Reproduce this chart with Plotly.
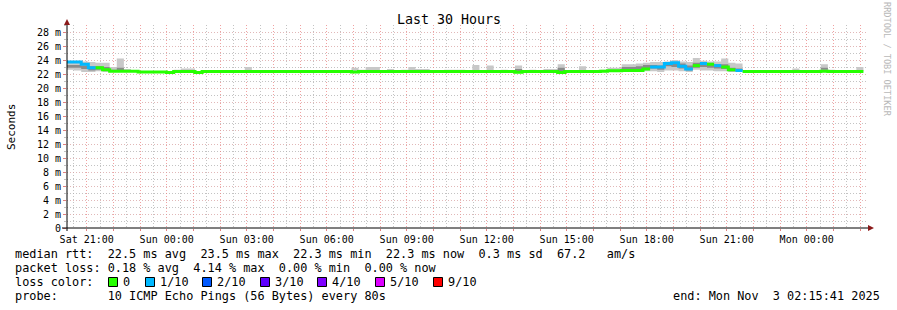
import plotly.graph_objects as go
from datetime import datetime, timedelta

# ---------------- data ----------------
start_time = datetime(2025, 11, 1, 20, 15, 41)
end_time = datetime(2025, 11, 3, 2, 15, 41)
step_minutes = 16

median_ms = [
    23.7, 23.7, 23.4, 22.9, 22.9, 22.6, 22.4, 22.4, 22.4, 22.4,
    22.3, 22.3, 22.3, 22.3, 22.2, 22.35, 22.35, 22.35, 22.2, 22.35,
    22.35, 22.35, 22.35, 22.35, 22.35, 22.35, 22.35, 22.35, 22.35, 22.35,
    22.35, 22.35, 22.35, 22.35, 22.35, 22.35, 22.35, 22.35, 22.35, 22.35,
    22.3, 22.35, 22.35, 22.35, 22.35, 22.35, 22.35, 22.35, 22.35, 22.35,
    22.35, 22.35, 22.35, 22.35, 22.35, 22.35, 22.35, 22.35, 22.35, 22.35,
    22.35, 22.35, 22.35, 22.25, 22.35, 22.35, 22.35, 22.35, 22.35, 22.2,
    22.35, 22.35, 22.35, 22.35, 22.35, 22.4, 22.45, 22.45, 22.5, 22.5,
    22.5, 22.7, 23.0, 23.0, 23.5, 23.6, 23.1, 22.7, 23.2, 23.5,
    23.4, 23.2, 23.0, 22.6, 22.5, 22.35, 22.35, 22.35, 22.35, 22.35,
    22.35, 22.35, 22.35, 22.35, 22.35, 22.35, 22.4, 22.35, 22.35, 22.35,
    22.35, 22.35,
]

loss_tenths = [
    1, 1, 1, 1, 0, 0, 0, 0, 0, 0,
    0, 0, 0, 0, 0, 0, 0, 0, 0, 0,
    0, 0, 0, 0, 0, 0, 0, 0, 0, 0,
    0, 0, 0, 0, 0, 0, 0, 0, 0, 0,
    0, 0, 0, 0, 0, 0, 0, 0, 0, 0,
    0, 0, 0, 0, 0, 0, 0, 0, 0, 0,
    0, 0, 0, 0, 0, 0, 0, 0, 0, 0,
    0, 0, 0, 0, 0, 0, 0, 0, 0, 0,
    0, 0, 1, 1, 1, 1, 1, 1, 0, 1,
    0, 1, 0, 0, 1, 0, 0, 0, 0, 0,
    0, 0, 0, 0, 0, 0, 0, 0, 0, 0,
    0, 0,
]

smoke_min_ms = [
    22.6, 22.5, 22.3, 22.3, 22.4, 22.3, 22.3, 22.4, 22.4, 22.4,
    22.3, 22.3, 22.3, 22.3, 22.2, 22.35, 22.35, 22.35, 22.2, 22.35,
    22.35, 22.35, 22.35, 22.35, 22.35, 22.35, 22.35, 22.35, 22.35, 22.35,
    22.35, 22.35, 22.35, 22.35, 22.35, 22.35, 22.35, 22.35, 22.35, 22.35,
    22.3, 22.35, 22.35, 22.35, 22.35, 22.35, 22.35, 22.35, 22.35, 22.35,
    22.35, 22.35, 22.35, 22.35, 22.35, 22.35, 22.35, 22.35, 22.35, 22.35,
    22.35, 22.35, 22.35, 22.2, 22.35, 22.35, 22.35, 22.35, 22.35, 22.1,
    22.35, 22.35, 22.35, 22.35, 22.35, 22.3, 22.3, 22.3, 22.3, 22.3,
    22.3, 22.4, 22.4, 22.3, 22.5, 22.5, 22.4, 22.3, 22.6, 22.5,
    22.5, 22.4, 22.4, 22.3, 22.3, 22.35, 22.35, 22.35, 22.35, 22.35,
    22.35, 22.35, 22.35, 22.35, 22.35, 22.35, 22.3, 22.35, 22.35, 22.35,
    22.35, 22.35,
]

smoke_max_ms = [
    23.9, 23.9, 23.8, 23.7, 23.6, 23.6, 23.0, 24.2, 22.7, 22.5,
    22.3, 22.3, 22.3, 22.3, 22.2, 22.6, 22.8, 22.8, 22.2, 22.35,
    22.35, 22.35, 22.35, 22.35, 22.35, 23.0, 22.35, 22.35, 22.35, 22.35,
    22.35, 22.35, 22.35, 22.35, 22.35, 22.35, 22.35, 22.35, 22.35, 22.35,
    22.9, 22.6, 23.0, 23.0, 22.35, 22.7, 22.35, 22.6, 23.0, 22.7,
    22.7, 22.35, 22.35, 22.6, 22.6, 22.6, 22.35, 23.3, 22.35, 23.2,
    22.35, 22.6, 22.35, 23.2, 22.35, 22.6, 22.35, 22.7, 22.7, 23.4,
    22.35, 22.35, 23.1, 22.35, 22.35, 22.6, 22.9, 22.9, 23.4, 23.4,
    23.5, 23.6, 23.7, 23.7, 23.8, 24.0, 23.8, 23.7, 24.3, 23.9,
    23.8, 23.8, 24.2, 23.6, 23.5, 22.35, 22.35, 22.35, 22.35, 22.35,
    22.35, 22.35, 22.8, 22.35, 22.35, 22.35, 23.4, 22.6, 22.35, 22.35,
    22.35, 23.0,
]

smoke_dark_lo_ms = [
    22.9, 22.9, 22.7, 22.5, 22.6, 22.5, 22.4, 22.5, 22.4, 22.4,
    22.3, 22.3, 22.3, 22.3, 22.2, 22.35, 22.35, 22.35, 22.2, 22.35,
    22.35, 22.35, 22.35, 22.35, 22.35, 22.35, 22.35, 22.35, 22.35, 22.35,
    22.35, 22.35, 22.35, 22.35, 22.35, 22.35, 22.35, 22.35, 22.35, 22.35,
    22.3, 22.35, 22.35, 22.35, 22.35, 22.35, 22.35, 22.35, 22.35, 22.35,
    22.35, 22.35, 22.35, 22.35, 22.35, 22.35, 22.35, 22.35, 22.35, 22.35,
    22.35, 22.35, 22.35, 22.4, 22.35, 22.35, 22.35, 22.35, 22.35, 22.4,
    22.35, 22.35, 22.35, 22.35, 22.35, 22.4, 22.45, 22.45, 22.6, 22.6,
    22.6, 22.8, 22.8, 22.6, 23.1, 23.0, 22.8, 22.5, 22.9, 23.0,
    22.9, 22.8, 22.7, 22.4, 22.4, 22.35, 22.35, 22.35, 22.35, 22.35,
    22.35, 22.35, 22.35, 22.35, 22.35, 22.35, 22.6, 22.35, 22.35, 22.35,
    22.35, 22.35,
]

smoke_dark_hi_ms = [
    23.3, 23.3, 23.2, 23.1, 23.1, 23.0, 22.6, 22.9, 22.4, 22.4,
    22.3, 22.3, 22.3, 22.3, 22.2, 22.35, 22.35, 22.35, 22.2, 22.35,
    22.35, 22.35, 22.35, 22.35, 22.35, 22.35, 22.35, 22.35, 22.35, 22.35,
    22.35, 22.35, 22.35, 22.35, 22.35, 22.35, 22.35, 22.35, 22.35, 22.35,
    22.3, 22.35, 22.35, 22.35, 22.35, 22.35, 22.35, 22.35, 22.35, 22.35,
    22.35, 22.35, 22.35, 22.35, 22.35, 22.35, 22.35, 22.35, 22.35, 22.35,
    22.35, 22.35, 22.35, 22.7, 22.35, 22.35, 22.35, 22.35, 22.35, 22.9,
    22.35, 22.35, 22.35, 22.35, 22.35, 22.4, 22.45, 22.45, 23.0, 23.0,
    23.1, 23.3, 23.3, 23.2, 23.6, 23.7, 23.5, 23.2, 23.6, 23.6,
    23.5, 23.4, 23.4, 22.9, 22.8, 22.35, 22.35, 22.35, 22.35, 22.35,
    22.35, 22.35, 22.35, 22.35, 22.35, 22.35, 22.9, 22.35, 22.35, 22.35,
    22.35, 22.35,
]

loss_colors = {0: "#26ff00", 1: "#00b8ff", 2: "#0059ff", 3: "#5e00ff",
               4: "#7e00ff", 5: "#dd00ff", 9: "#ff0000"}
loss_labels = ["0", "1/10", "2/10", "3/10", "4/10", "5/10", "9/10"]
loss_label_keys = [0, 1, 2, 3, 4, 5, 9]

x_tick_labels = ["Sat 21:00", "Sun 00:00", "Sun 03:00", "Sun 06:00", "Sun 09:00",
                 "Sun 12:00", "Sun 15:00", "Sun 18:00", "Sun 21:00", "Mon 00:00"]
y_tick_labels = ["0", "2 m", "4 m", "6 m", "8 m", "10 m", "12 m", "14 m",
                 "16 m", "18 m", "20 m", "22 m", "24 m", "26 m", "28 m"]

stats_line = "median rtt:  22.5 ms avg  23.5 ms max  22.3 ms min  22.3 ms now  0.3 ms sd  67.2   am/s"
loss_line = "packet loss: 0.18 % avg  4.14 % max  0.00 % min  0.00 % now"
probe_line = "probe:       10 ICMP Echo Pings (56 Bytes) every 80s"
end_line = "end: Mon Nov  3 02:15:41 2025"

# ---------------- geometry ----------------
W, H = 897, 310
ML, MR, MT, MB = 67, 30, 25, 82
PW, PH = W - ML - MR, H - MT - MB
FONT = "DejaVu Sans Mono"


def fx(px):
    return (px - ML) / PW


def fy(py):
    return (H - MB - py) / PH


n = len(median_ms)
t = [start_time + timedelta(minutes=step_minutes * i) for i in range(n + 1)]


def stepped(vals):
    return list(vals) + [vals[-1]]


fig = go.Figure()

# smoke (light band)
fig.add_trace(go.Scatter(x=t, y=stepped(smoke_min_ms), mode="lines", line=dict(width=0, shape="hv"),
                         hoverinfo="skip", showlegend=False))
fig.add_trace(go.Scatter(x=t, y=stepped(smoke_max_ms), mode="lines", line=dict(width=0, shape="hv"),
                         fill="tonexty", fillcolor="#c8c8c8", hoverinfo="skip", showlegend=False))
# smoke (dark band)
fig.add_trace(go.Scatter(x=t, y=stepped(smoke_dark_lo_ms), mode="lines", line=dict(width=0, shape="hv"),
                         hoverinfo="skip", showlegend=False))
fig.add_trace(go.Scatter(x=t, y=stepped(smoke_dark_hi_ms), mode="lines", line=dict(width=0, shape="hv"),
                         fill="tonexty", fillcolor="#8a8a8a", hoverinfo="skip", showlegend=False))

# median coloured by loss
for key, col in loss_colors.items():
    xs, ys = [], []
    i = 0
    while i < n:
        if loss_tenths[i] == key:
            j = i
            while j + 1 < n and loss_tenths[j + 1] == key:
                j += 1
            for k in range(i, j + 1):
                xs.append(t[k]); ys.append(median_ms[k])
            xs.append(t[j + 1]); ys.append(median_ms[j])
            xs.append(None); ys.append(None)
            i = j + 1
        else:
            i += 1
    if xs:
        fig.add_trace(go.Scatter(x=xs, y=ys, mode="lines", line=dict(color=col, width=3, shape="hv"),
                                 connectgaps=False, hoverinfo="skip", showlegend=False))

# axes
hour_ticks = [datetime(2025, 11, 1, 21) + timedelta(hours=h) for h in range(30)]
hour_text = []
for h in range(30):
    hour_text.append(x_tick_labels[h // 3] if h % 3 == 0 else "")
half_ticks = [datetime(2025, 11, 1, 20, 30) + timedelta(hours=h) for h in range(30)]

red_grid = "rgba(235,130,130,0.75)"
pale_red_grid = "rgba(215,160,160,0.75)"
grey_grid = "rgba(175,175,175,0.75)"
DASH = "1px,2px"

fig.update_xaxes(range=[start_time, end_time], tickmode="array", tickvals=hour_ticks, ticktext=hour_text,
                 showgrid=True, gridcolor=red_grid, griddash=DASH, gridwidth=1,
                 ticks="outside", ticklen=2, tickcolor="#e08080",
                 tickfont=dict(family=FONT, size=10, color="#000"),
                 minor=dict(tickmode="array", tickvals=half_ticks, showgrid=True, gridcolor=grey_grid,
                            griddash=DASH, ticks=""),
                 showline=False, zeroline=False, fixedrange=True)

fig.update_yaxes(range=[0, 29], tickmode="array", tickvals=list(range(0, 29, 2)), ticktext=y_tick_labels,
                 showgrid=True, gridcolor=pale_red_grid, griddash=DASH, gridwidth=1,
                 ticks="outside", ticklen=3, tickcolor="#e08080",
                 tickfont=dict(family=FONT, size=10, color="#000"),
                 minor=dict(tickmode="array", tickvals=list(range(1, 30, 2)), showgrid=True,
                            gridcolor=grey_grid, griddash=DASH, ticks="outside", ticklen=2,
                            tickcolor="#c0c0c0"),
                 showline=False, zeroline=False, fixedrange=True)

shapes = []
# axis lines
shapes.append(dict(type="line", xref="paper", yref="paper", x0=fx(62), x1=fx(869), y0=fy(228), y1=fy(228),
                   line=dict(color="#000", width=1), layer="above"))
shapes.append(dict(type="line", xref="paper", yref="paper", x0=fx(67), x1=fx(67), y0=fy(231), y1=fy(24),
                   line=dict(color="#000", width=1), layer="above"))
# arrows
shapes.append(dict(type="path", xref="paper", yref="paper",
                   path=f"M {fx(868)} {fy(225)} L {fx(874)} {fy(228)} L {fx(868)} {fy(231)} Z",
                   fillcolor="#8b1a1a", line=dict(color="#8b1a1a", width=0), layer="above"))
shapes.append(dict(type="path", xref="paper", yref="paper",
                   path=f"M {fx(64)} {fy(25)} L {fx(67)} {fy(19)} L {fx(70)} {fy(25)} Z",
                   fillcolor="#8b1a1a", line=dict(color="#8b1a1a", width=0), layer="above"))

annotations = []


def txt(px, py, s, size=11.85, anchor="left", color="#000", angle=0):
    annotations.append(dict(x=fx(px), y=fy(py), xref="paper", yref="paper", text=s.replace(" ", "\u00a0"),
                            showarrow=False, xanchor=anchor, yanchor="middle", textangle=angle,
                            font=dict(family=FONT, size=size, color=color), borderpad=0))


txt(448.5, 19, "Last 30 Hours", size=13.3, anchor="center")
txt(11, 127, "Seconds", size=11, anchor="center", angle=-90)
txt(887, 60, "RRDTOOL / TOBI OETIKER", size=8.6, anchor="center", color="#b8b8b8", angle=90)

txt(14, 254, stats_line)
txt(14, 268, loss_line)
txt(14, 282, "loss color:")
txt(14, 296, probe_line)
txt(881, 296, end_line, anchor="right")

label_px = [123, 160, 217, 275, 332, 390, 448]
for key, lab, lx in zip(loss_label_keys, loss_labels, label_px):
    shapes.append(dict(type="rect", xref="paper", yref="paper", x0=fx(lx - 14.5), x1=fx(lx - 5.5),
                       y0=fy(286.5), y1=fy(277.5), fillcolor=loss_colors[key],
                       line=dict(color="#000", width=1), layer="above"))
    txt(lx - 1, 282, lab)

fig.update_layout(width=W, height=H, margin=dict(l=ML, r=MR, t=MT, b=MB, pad=0),
                  paper_bgcolor="#ffffff", plot_bgcolor="#ffffff", showlegend=False,
                  shapes=shapes, annotations=annotations,
                  font=dict(family=FONT, size=11, color="#000"))

fig.write_html("out.html", config={"displayModeBar": False})
